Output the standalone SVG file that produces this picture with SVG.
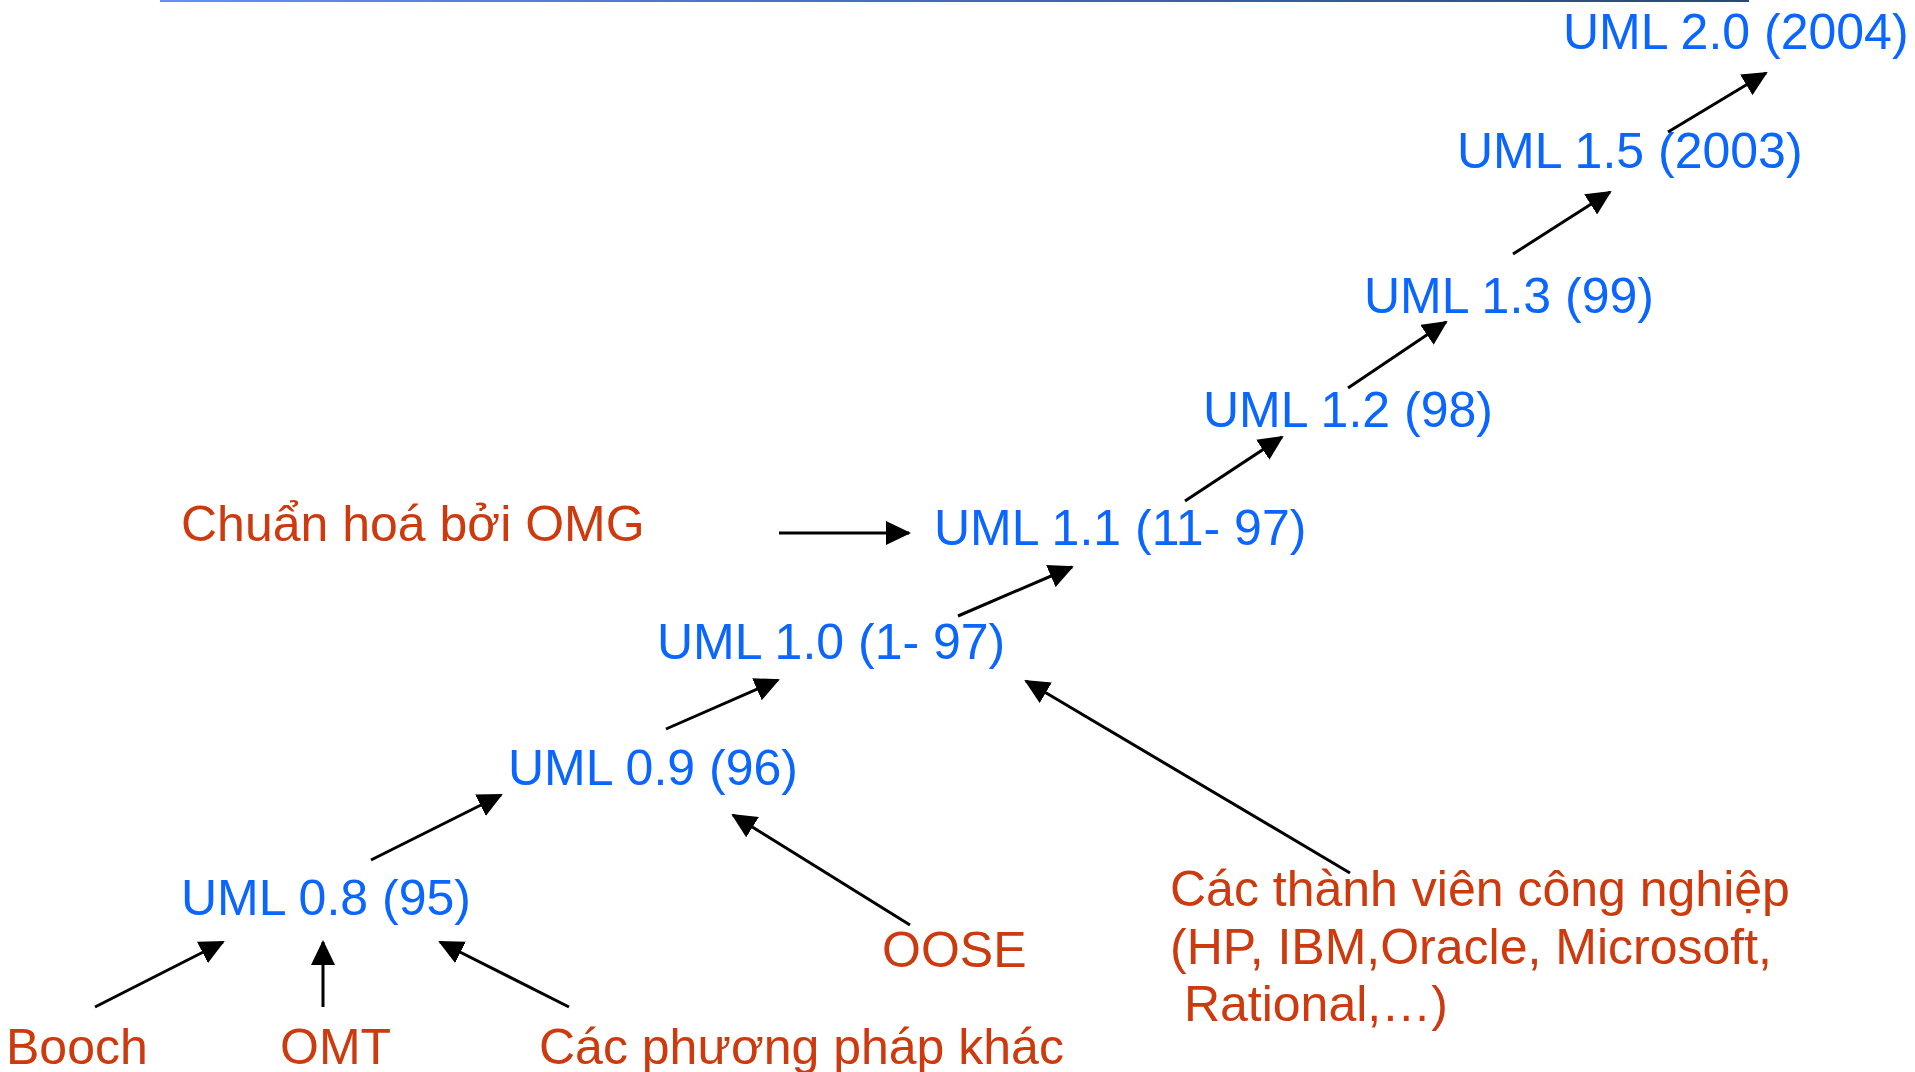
<svg xmlns="http://www.w3.org/2000/svg" width="1915" height="1072" viewBox="0 0 1915 1072">
<defs>
<linearGradient id="topline" x1="0" y1="0" x2="1" y2="0">
<stop offset="0" stop-color="#5f92f2"/>
<stop offset="0.5" stop-color="#3f6bb8"/>
<stop offset="1" stop-color="#2a4777"/>
</linearGradient>
<marker id="ah" viewBox="0 0 25 24" refX="23" refY="12" markerWidth="25" markerHeight="24" markerUnits="userSpaceOnUse" orient="auto">
<path d="M0,0 L25,12 L0,24 Z" fill="#000"/>
</marker>
<style>
text{font-family:"Liberation Sans",Arial,sans-serif;font-size:50px}
.uml{fill:#0a66ff}
.src{fill:#cc3a0e}
.c line{stroke:#000;stroke-width:3;marker-end:url(#ah)}
</style>
</defs>
<rect width="1915" height="1072" fill="#fff"/>
<rect x="160" y="0" width="1589" height="2" fill="url(#topline)"/>
<g id="uml20"><text class="uml" x="1563" y="49">UML 2.0 (2004)</text></g>
<g id="uml15"><text class="uml" x="1457" y="168">UML 1.5 (2003)</text></g>
<g id="uml13"><text class="uml" x="1364" y="313">UML 1.3 (99)</text></g>
<g id="uml12"><text class="uml" x="1203" y="427">UML 1.2 (98)</text></g>
<g id="uml11"><text class="uml" x="934" y="545">UML 1.1 (11- 97)</text></g>
<g id="omg"><text class="src" x="181" y="541">Chuẩn hoá bởi OMG</text></g>
<g id="uml10"><text class="uml" x="657" y="659">UML 1.0 (1- 97)</text></g>
<g id="uml09"><text class="uml" x="508" y="785">UML 0.9 (96)</text></g>
<g id="uml08"><text class="uml" x="181" y="915">UML 0.8 (95)</text></g>
<g id="oose"><text class="src" x="882" y="967">OOSE</text></g>
<g id="booch"><text class="src" x="6" y="1064">Booch</text></g>
<g id="omt"><text class="src" x="280" y="1064">OMT</text></g>
<g id="khac"><text class="src" x="539" y="1064">Các phương pháp khác</text></g>
<g id="congnghiep"><text class="src" x="1170" y="906">Các thành viên công nghiệp</text><text class="src" x="1170" y="964">(HP, IBM,Oracle, Microsoft,</text><text class="src" x="1170" y="1021" xml:space="preserve"> Rational,…)</text></g>
<g id="connectors" class="c">
<line x1="1668" y1="132" x2="1766" y2="73"/>
<line x1="1513" y1="254" x2="1610" y2="192"/>
<line x1="1348" y1="388" x2="1446" y2="322"/>
<line x1="1185" y1="501" x2="1282" y2="437"/>
<line x1="958" y1="616" x2="1072" y2="567"/>
<line x1="666" y1="729" x2="778" y2="680"/>
<line x1="371" y1="860" x2="501" y2="795"/>
<line x1="95" y1="1007" x2="223" y2="942"/>
<line x1="323" y1="1007" x2="323" y2="942"/>
<line x1="569" y1="1007" x2="440" y2="942"/>
<line x1="910" y1="925" x2="733" y2="815"/>
<line x1="1350" y1="873" x2="1026" y2="681"/>
<line x1="779" y1="533" x2="909" y2="533"/>
</g>
</svg>
